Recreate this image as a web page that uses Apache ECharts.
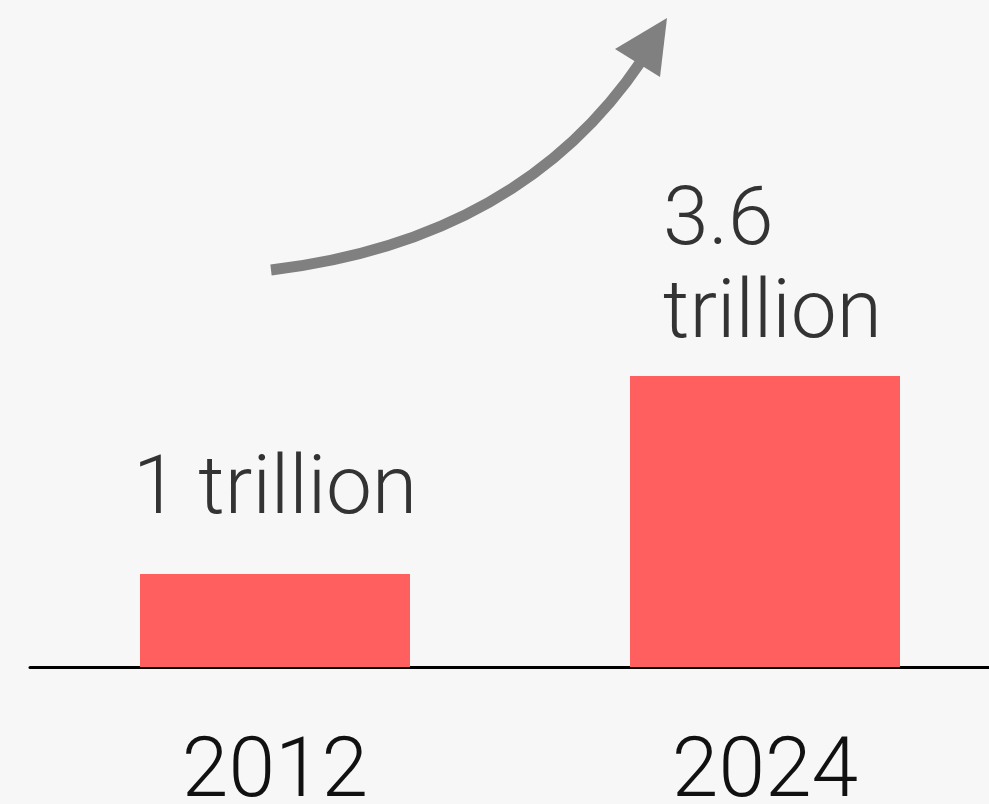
<!DOCTYPE html>
<html>
<head>
<meta charset="utf-8">
<script src="https://cdn.jsdelivr.net/npm/echarts@6/dist/echarts.min.js"></script>
<style>
html,body{margin:0;padding:0;background:#f7f7f7;}
#chart{width:989px;height:804px;}
</style>
</head>
<body>
<div id="chart"></div>
<script>
// Data
var categories = ['2012', '2024'];
var valueLabels = ['1 trillion', '3.6\ntrillion'];
// bar heights as drawn in the picture (not to scale with the labels)
var barHeights = [1, 3.13];

var FONT = 'Roboto, "Liberation Sans", sans-serif';
var chart = echarts.init(document.getElementById('chart'), null, {renderer: 'canvas'});

var labelConfigs = [
  {position: 'top', distance: 35, align: 'center'},
  {position: 'top', distance: 13, align: 'left', offset: [-102, 0]}
];

var option = {
  backgroundColor: '#f7f7f7',
  animation: false,
  grid: {left: 30, width: 980, top: 16, bottom: 137, outerBoundsMode: 'none', containLabel: false},
  xAxis: {
    type: 'category',
    data: categories,
    axisLine: {show: true, lineStyle: {color: '#000', width: 3}},
    axisTick: {show: false},
    axisLabel: {
      fontSize: 84, fontFamily: FONT, fontWeight: 300, color: '#111',
      margin: 66
    }
  },
  yAxis: {
    type: 'value', min: 0, max: 7, show: false,
    splitLine: {show: false}
  },
  series: [{
    type: 'bar',
    barWidth: 270,
    itemStyle: {color: '#ff5f5f'},
    data: barHeights.map(function (h, i) {
      var lc = labelConfigs[i];
      return {
        value: h,
        label: {
          show: true,
          position: lc.position,
          distance: lc.distance,
          align: lc.align,
          offset: lc.offset || [0, 0],
          formatter: valueLabels[i],
          fontSize: 82,
          lineHeight: 93,
          fontFamily: FONT,
          fontWeight: 300,
          color: '#333'
        }
      };
    })
  }],
  graphic: [
    {
      type: 'bezierCurve',
      shape: {x1: 271, y1: 270, cpx1: 521, cpy1: 240, x2: 642, y2: 60},
      style: {stroke: '#808080', lineWidth: 11, fill: null},
      z: 10
    },
    {
      type: 'polygon',
      shape: {points: [[667, 18], [615, 49], [660, 77]]},
      style: {fill: '#808080'},
      z: 10
    }
  ]
};
chart.setOption(option);
</script>
</body>
</html>
